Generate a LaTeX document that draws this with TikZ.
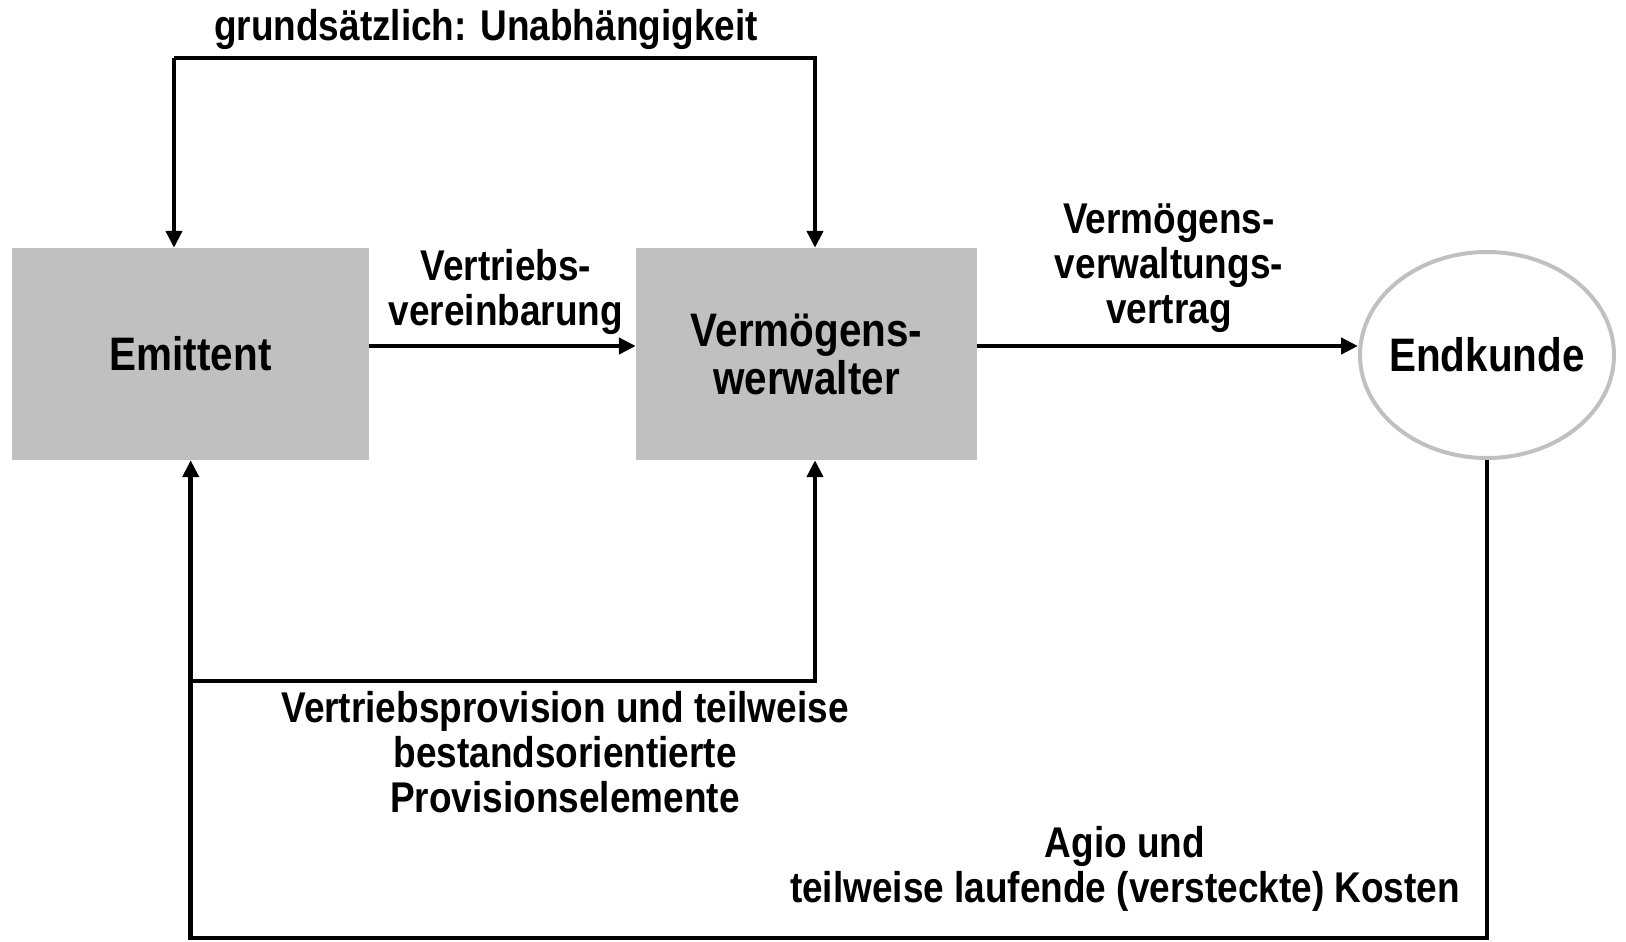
\documentclass[tikz,border=0pt]{standalone}
\usepackage{fontspec}
\newfontfamily\arl{Liberation Sans}[FakeStretch=0.86]
\usetikzlibrary{shapes.geometric,arrows.meta}
\definecolor{boxgray}{RGB}{192,192,192}
\begin{document}
\begin{tikzpicture}[x=1pt,y=-1pt,
  every node/.style={font=\arl\bfseries\fontsize{43}{45}\selectfont, align=center, inner sep=0pt},
  big/.style={font=\arl\bfseries\fontsize{47}{48}\selectfont},
  boxnode/.style={rectangle, fill=boxgray, big},
  arr/.style={line width=4.6pt, -{Triangle[length=17pt,width=16pt]}}]
\useasboundingbox (0,0) rectangle (1626,942);
\node[boxnode, minimum width=356.6pt, minimum height=212pt] (em) at (190.7,354) {Emittent};
\node[boxnode, minimum width=341pt, minimum height=212pt] (vv) at (806.5,354) {Vermögens-\\werwalter};
\node[ellipse, draw=boxgray, line width=4pt, inner xsep=-12pt, minimum width=254pt, minimum height=206pt, big] (ek) at (1487,355) {Endkunde};
\node (ttl) at (486,29) {grundsätzlich: Unabhängigkeit};
\node (lva) at (506,292) {Vertriebs-\\vereinbarung};
\node (lvv) at (1169,268) {Vermögens-\\verwaltungs-\\vertrag};
\node (lprov) at (565,752) {Vertriebsprovision und teilweise\\bestandsorientierte\\Provisionselemente};
\node (lagio) at (1125,869) {Agio und\\teilweise laufende (versteckte) Kosten};
\coordinate (tl) at (174,58);
\coordinate (tr) at (815,58);
\coordinate (ml) at (190.7,681);
\coordinate (mr) at (815,681);
\coordinate (bl) at (190.7,938);
\draw[arr] (tl) -- (tl |- em.north);
\draw[arr] (tl) -- (tr) -- (tr |- vv.north);
\draw[arr] ([yshift=8pt]em.east) -- ([yshift=8pt]vv.west);
\draw[arr] ([yshift=8pt]vv.east) -- ([yshift=8pt]vv.east -| ek.west);
\draw[arr] (ek.south) -- (ek.south |- bl) -- (bl) -- (em.south);
\draw[arr] (ml) -- (mr) -- (mr |- vv.south);
\end{tikzpicture}
\end{document}
